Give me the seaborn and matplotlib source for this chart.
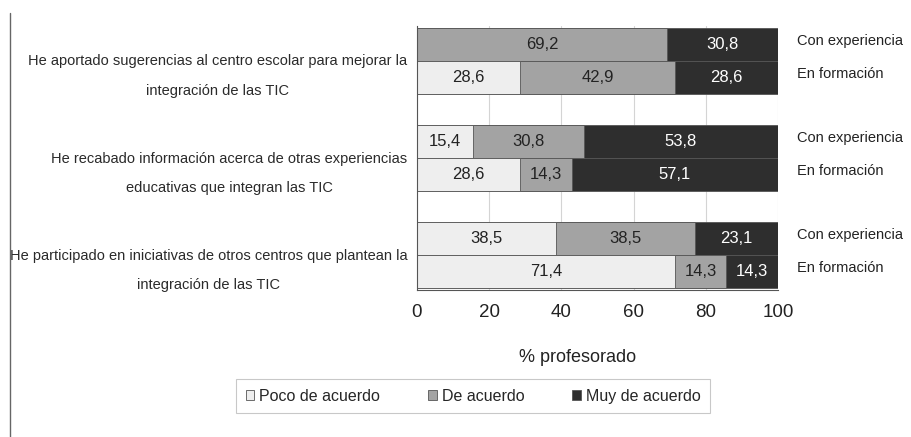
import pandas as pd
import seaborn as sns
import matplotlib.pyplot as plt
import matplotlib.transforms as mtransforms
from matplotlib.patches import Patch
from matplotlib.lines import Line2D


items = [
    'He aportado sugerencias al centro escolar para mejorar la\nintegración de las TIC',
    'He recabado información acerca de otras experiencias\neducativas que integran las TIC',
    'He participado en iniciativas de otros centros que plantean la\nintegración de las TIC',
]
perfiles = ['Con experiencia', 'En formación']
niveles = ['Poco de acuerdo', 'De acuerdo', 'Muy de acuerdo']

# % profesorado, one list per (perfil, nivel)
poco_con = [0.0, 15.4, 38.5]
de_con = [69.2, 30.8, 38.5]
muy_con = [30.8, 53.8, 23.1]
poco_for = [28.6, 28.6, 71.4]
de_for = [42.9, 14.3, 14.3]
muy_for = [28.6, 57.1, 14.3]

colores = ['#eeeeee', '#a3a3a3', '#2e2e2e']


def build_dataframe():
    rows = []
    series = {
        'Con experiencia': [poco_con, de_con, muy_con],
        'En formación': [poco_for, de_for, muy_for],
    }
    for perfil in perfiles:
        poco, de, muy = series[perfil]
        for i, item in enumerate(items):
            rows.append({
                'item': item, 'perfil': perfil,
                'poco': poco[i], 'de': de[i], 'muy': muy[i],
            })
    df = pd.DataFrame(rows)
    df['cum_poco'] = df['poco']
    df['cum_de'] = df['poco'] + df['de']
    df['cum_muy'] = df['poco'] + df['de'] + df['muy']
    return df


df = build_dataframe()

sns.set_style('white')
plt.rcParams['font.family'] = ['Liberation Sans', 'DejaVu Sans']

fig = plt.figure(figsize=(9.11, 4.37), dpi=100)
ax = fig.add_axes([417 / 911, 1 - 290 / 437, (778 - 417) / 911, (290 - 26) / 437])

# stacked bars: draw cumulative layers from longest to shortest
layers = [('cum_muy', colores[2]), ('cum_de', colores[1]), ('cum_poco', colores[0])]
for col, c in layers:
    sns.barplot(data=df, x=col, y='item', hue='perfil', order=items,
                hue_order=perfiles, orient='h', width=0.68, gap=0,
                palette=[c, c], edgecolor='#555555', linewidth=0.6,
                errorbar=None, legend=False, ax=ax, zorder=2)

# centre of each bar row, read back from the first layer
ycen = {}
for k, perfil in enumerate(perfiles):
    for i, p in enumerate(ax.containers[k]):
        ycen[(items[i], perfil)] = p.get_y() + p.get_height() / 2

for _, r in df.iterrows():
    y = ycen[(r['item'], r['perfil'])]
    segs = [(r['poco'], r['cum_poco'], '#222222'),
            (r['de'], r['cum_de'], '#222222'),
            (r['muy'], r['cum_muy'], 'white')]
    for val, end, tc in segs:
        if val > 0:
            ax.text(end - val / 2, y, f'{val:.1f}'.replace('.', ','),
                    ha='center', va='center', fontsize=12, color=tc, zorder=5)

# profile labels to the right of the bars
trans = mtransforms.blended_transform_factory(ax.transAxes, ax.transData)
for (item, perfil), y in ycen.items():
    ax.text(1.052, y - 0.04, perfil, transform=trans, ha='left', va='center',
            fontsize=10.5, color='#222222')

ax.set_xlim(0, 100)
ax.set_ylim(2.36, -0.36)
ax.set_xticks([0, 20, 40, 60, 80, 100])
ax.tick_params(axis='x', labelsize=13.5, length=5, width=0.8, color='#555555',
               pad=5, labelcolor='#222222')
ax.set_xlabel('% profesorado', fontsize=13, color='#222222')
ax.xaxis.set_label_coords((578 - 417) / (778 - 417), -0.225)
ax.set_ylabel('')

ax.set_yticks(range(len(items)))
ax.set_yticklabels(items, fontsize=10.5, color='#2a2a2a',
                   multialignment='center', linespacing=2.4)
ax.tick_params(axis='y', which='major', length=0, pad=7)
shift = mtransforms.ScaledTranslation(0, -0.06, fig.dpi_scale_trans)
for lab in ax.get_yticklabels():
    lab.set_transform(lab.get_transform() + shift)
ax.set_yticks([-0.34, 0.34, 0.66, 1.34, 1.66, 2.34], minor=True)
ax.tick_params(axis='y', which='minor', length=6, width=0.8, color='#555555')

ax.grid(axis='x', color='#d4d4d4', linewidth=0.8, zorder=0)
ax.set_axisbelow(True)
for s in ['top', 'right']:
    ax.spines[s].set_visible(False)
for s in ['left', 'bottom']:
    ax.spines[s].set_color('#555555')
    ax.spines[s].set_linewidth(0.8)

handles = [Patch(facecolor=c, edgecolor='#555555', linewidth=0.6) for c in colores]
leg = fig.legend(handles, niveles, loc='upper center', ncol=3,
                 bbox_to_anchor=(473 / 911, 1 - 379 / 437), fontsize=11.5,
                 frameon=True, fancybox=False, edgecolor='#bbbbbb',
                 handlelength=0.55, handleheight=0.55, handletextpad=0.3,
                 columnspacing=3.0, borderpad=0.6, borderaxespad=0)
leg.get_frame().set_linewidth(0.8)

# thin rule on the left edge of the picture
fig.add_artist(Line2D([10 / 911, 10 / 911], [0, 1 - 13 / 437], color='#666666', linewidth=1))

fig.savefig('out.png', dpi=100)
